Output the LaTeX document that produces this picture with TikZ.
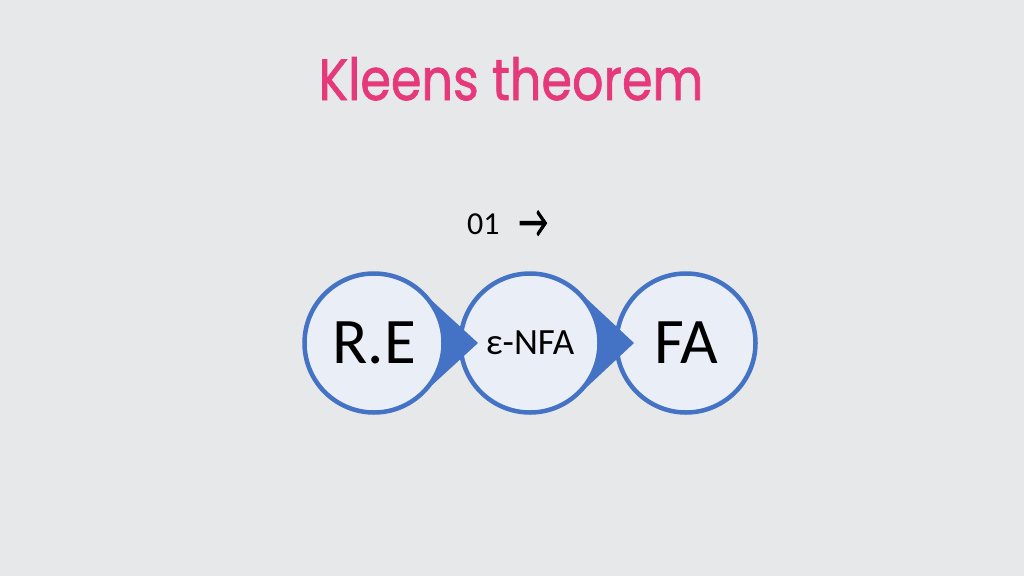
\documentclass[tikz,border=0pt]{standalone}
\usepackage{fontspec}
\usetikzlibrary{calc}
\setmainfont{Carlito}
\newfontfamily\titlefont[FakeBold=1.3]{Poppins}
\newfontfamily\arrowfont[FakeBold=2]{Carlito}
\definecolor{bg}{HTML}{E7E8EA}
\definecolor{cfill}{HTML}{EAEFF7}
\definecolor{cblue}{HTML}{4472C4}
\definecolor{tpink}{HTML}{E6397B}
\tikzset{
  stage/.style={circle, draw=cblue, line width=4.5pt, fill=cfill, minimum size=139pt, inner sep=0pt, text=black},
  pointer/.style={fill=cblue, draw=none}
}
\begin{document}
\begin{tikzpicture}[x=1pt,y=-1pt]
\fill[bg] (0,0) rectangle (1024,576);
\useasboundingbox (0,0) rectangle (1024,576);
\node[text=tpink, font=\titlefont\fontsize{58}{60}\selectfont, anchor=base] (title) at (511,100) {\scalebox{0.85}[1]{Kleens theorem}};
\node[font=\fontsize{32}{34}\selectfont, anchor=base west, inner sep=0pt] (lbl) at (467,234) {01\hspace{0.6em}\raisebox{-0.1em}{\scalebox{1.0}[1.45]{\arrowfont →}}};
% third stage
\node[stage, font=\fontsize{65}{67}\selectfont] (fa) at (686,343) {FA};
% second stage with pointer
\coordinate (t2) at (634,343);
\fill[pointer] ($(530,343)+(47.5:71)$) -- (t2) -- ($(530,343)+(-47.5:71)$) -- (530,343) -- cycle;
\node[stage, font=\fontsize{37}{39}\selectfont] (nfa) at (530,343) {ε-NFA};
% first stage with pointer
\coordinate (t1) at (478,343);
\fill[pointer] ($(373,343)+(47.5:71)$) -- (t1) -- ($(373,343)+(-47.5:71)$) -- (373,343) -- cycle;
\node[stage, font=\fontsize{65}{67}\selectfont] (re) at (374,343) {R.E};
\end{tikzpicture}
\end{document}
